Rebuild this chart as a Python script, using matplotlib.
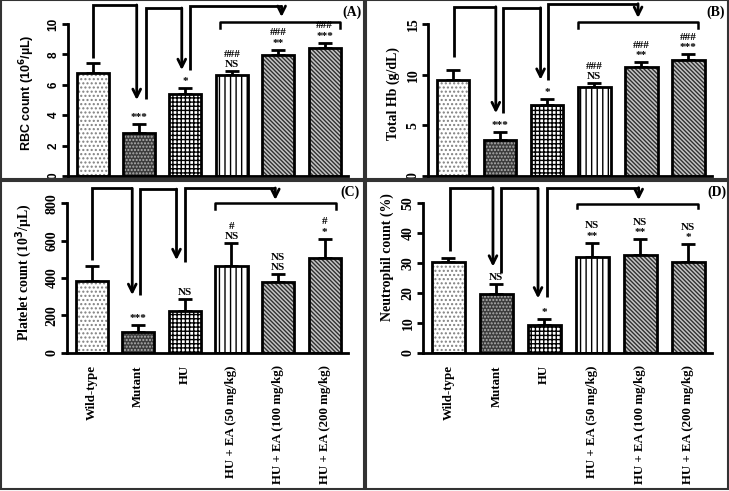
import numpy as np
import matplotlib
matplotlib.use('Agg')
import matplotlib.pyplot as plt
from matplotlib.patches import Rectangle

W, H = 729, 491

groups = ['Wild-type', 'Mutant', 'HU', 'HU + EA (50 mg/kg)',
          'HU + EA (100 mg/kg)', 'HU + EA (200 mg/kg)']

rbc_mean = [6.76, 2.85, 5.37, 6.64, 7.96, 8.40]
rbc_sem = [0.70, 0.57, 0.40, 0.26, 0.33, 0.37]
rbc_marks = [[], ['***'], ['*'], ['NS', '###'], ['**', '###'], ['***', '###']]

hb_mean = [9.48, 3.55, 7.00, 8.82, 10.73, 11.45]
hb_sem = [0.98, 0.82, 0.57, 0.33, 0.52, 0.55]
hb_marks = [[], ['***'], ['*'], ['NS', '###'], ['**', '###'], ['***', '###']]

plt_mean = [384, 112, 223, 466, 377, 509]
plt_sem = [80, 36, 63, 120, 43, 100]
plt_marks = [[], ['***'], ['NS'], ['NS', '#'], ['NS', 'NS'], ['*', '#']]

neu_mean = [30.1, 19.6, 9.2, 32.0, 32.6, 30.1]
neu_sem = [1.4, 3.2, 1.9, 4.7, 5.3, 6.1]
neu_marks = [[], ['NS'], ['*'], ['**', 'NS'], ['**', 'NS'], ['*', 'NS']]

# face colour, hatch, hatch colour for each group
styles = [('white', '....', '#808080'),
          ('#3c3c3c', '.....', '#b0b0b0'),
          ('white', '++++', 'black'),
          ('white', '|||', 'black'),
          ('#c4c4c4', '\\' * 8, '#303030'),
          ('#c4c4c4', '\\' * 8, '#303030')]

plt.rcParams['hatch.linewidth'] = 1.0
SERIF = 'Liberation Serif'
SANS = 'Liberation Sans'

fig = plt.figure(figsize=(W / 100, H / 100), dpi=100)


def px_axes(left, right, top, bottom):
    return fig.add_axes([left / W, 1 - bottom / H, (right - left) / W, (bottom - top) / H])


# panel layout: axes box in pixels and connector paths in data units
panels = [
    dict(mean=rbc_mean, sem=rbc_sem, marks=rbc_marks, box=(68, 348, 1, 176),
         ytop=11.51, yspine=10, ticks=[0, 2, 4, 6, 8, 10], tickfont=SANS, tickfs=8.5,
         ylabel='RBC count (10$^\\mathbf{6}$/µL)', labfont=SANS, labfs=9,
         labpos=(27, 93), tag='(A)', tagpos=(352, 12), xlabels=False,
         paths=[(0.0, 7.76, 11.25, 0.95, 5.0), (1.16, 5.06, 11.05, 1.92, 6.97),
                (2.09, 6.97, 11.15, 4.07, 10.46)],
         bracket=(2.74, 5.32, 10.13, 9.74)),
    dict(mean=hb_mean, sem=hb_sem, marks=hb_marks, box=(428, 712, 1, 176),
         ytop=17.27, yspine=15, ticks=[0, 5, 10, 15], tickfont=SERIF, tickfs=10,
         ylabel='Total Hb (g/dL)', labfont=SERIF, labfs=10,
         labpos=(393, 94), tag='(B)', tagpos=(716, 12), xlabels=False,
         paths=[(0.03, 11.75, 16.7, 0.91, 6.2), (1.06, 6.2, 16.6, 1.86, 9.5),
                (2.02, 9.5, 17.0, 3.93, 15.6)],
         bracket=(2.66, 5.2, 15.2, 14.6)),
    dict(mean=plt_mean, sem=plt_sem, marks=plt_marks, box=(67, 348, 182, 352.7),
         ytop=914, yspine=800, ticks=[0, 200, 400, 600, 800], tickfont=SERIF, tickfs=10,
         ylabel='Platelet count (10$^\\mathbf{3}$/µL)', labfont=SERIF, labfs=10,
         labpos=(24, 272), tag='(C)', tagpos=(350, 192), xlabels=True,
         paths=[(0.0, 496, 880, 0.87, 309), (1.03, 309, 876, 1.82, 496),
                (2.0, 486, 882, 3.94, 818)],
         bracket=(2.65, 5.24, 800, 769)),
    dict(mean=neu_mean, sem=neu_sem, marks=neu_marks, box=(423, 712, 182, 352.7),
         ytop=56.9, yspine=50, ticks=[0, 10, 20, 30, 40, 50], tickfont=SERIF, tickfs=10,
         ylabel='Neutrophil count (%)', labfont=SERIF, labfs=10,
         labpos=(387, 257), tag='(D)', tagpos=(717, 192), xlabels=True,
         paths=[(0.04, 33.9, 55, 0.93, 28.7), (1.09, 26.6, 54.8, 1.87, 18.1),
                (2.05, 18.7, 55, 3.97, 50.9)],
         bracket=(2.68, 5.2, 49.5, 48.1)),
]

x = np.arange(len(groups))
width = 0.69

for p in panels:
    ax = px_axes(*p['box'])
    mean = np.array(p['mean'], dtype=float)
    sem = np.array(p['sem'], dtype=float)
    for i in range(len(groups)):
        face, hatch, hcol = styles[i]
        ax.bar(x[i], mean[i], width, color=face, hatch=hatch, edgecolor=hcol,
               linewidth=0, zorder=2)
        ax.bar(x[i], mean[i], width, fill=False, edgecolor='black',
               linewidth=2, zorder=3)
    ax.errorbar(x, mean, yerr=[np.zeros_like(sem), sem], fmt='none', ecolor='black',
                elinewidth=2, capsize=5, capthick=2, zorder=1)

    # significance marks above the error bars
    for i, marks in enumerate(p['marks']):
        for k, m in enumerate(marks):
            ax.annotate(m, (x[i], mean[i] + sem[i]), xytext=(0, 1.5 + 7.5 * k),
                        textcoords='offset points', ha='center', va='bottom',
                        fontsize=8, fontweight='bold', family=SERIF,
                        annotation_clip=False)

    # connector arrows
    for xu, ys, yt, xd, ytip in p['paths']:
        ax.plot([xu, xu, xd], [ys, yt, yt], color='black', lw=2,
                clip_on=False, solid_joinstyle='miter', solid_capstyle='butt')
        ax.annotate('', xy=(xd, ytip), xytext=(xd, yt),
                    arrowprops=dict(arrowstyle='->', lw=2, color='black',
                                    shrinkA=0, shrinkB=0, mutation_scale=14),
                    annotation_clip=False)
    bx0, bx1, by, bt = p['bracket']
    ax.plot([bx0, bx0, bx1, bx1], [bt, by, by, bt], color='black', lw=1.8,
            clip_on=False)

    ax.set_xlim(-0.53, 5.5)
    ax.set_ylim(0, p['ytop'])
    for s in ['top', 'right']:
        ax.spines[s].set_visible(False)
    ax.spines['left'].set_linewidth(2)
    ax.spines['bottom'].set_linewidth(2)
    ax.spines['left'].set_bounds(0, p['yspine'])
    ax.set_yticks(p['ticks'])
    ax.tick_params(axis='y', width=2, length=4, labelrotation=90, pad=2)
    for t in ax.get_yticklabels():
        t.set_fontfamily(p['tickfont'])
        t.set_fontweight('bold')
        t.set_fontsize(p['tickfs'])
        t.set_va('center')
    ax.set_xticks(x)
    ax.tick_params(axis='x', length=0, pad=9)
    if p['xlabels']:
        ax.set_xticklabels(groups, rotation=90, fontsize=9.3, fontweight='bold',
                           family=SERIF, va='top', ha='center')
    else:
        ax.set_xticklabels([])

    lx, ly = p['labpos']
    fig.text(lx / W, 1 - ly / H, p['ylabel'], rotation=90, ha='center', va='center',
             fontsize=p['labfs'], fontweight='bold', family=p['labfont'])
    tx, ty = p['tagpos']
    fig.text(tx / W, 1 - ty / H, p['tag'], ha='center', va='center',
             fontsize=10, fontweight='bold', family=SERIF)

# panel frames
for (l, r, t, b) in [(1, 364, 0.5, 179), (366, 728, 0.5, 179),
                     (1, 364, 181, 489), (366, 728, 181, 489)]:
    fig.add_artist(Rectangle((l / W, 1 - b / H), (r - l) / W, (b - t) / H,
                             transform=fig.transFigure, fill=False,
                             edgecolor='#333333', linewidth=1.5))

fig.savefig('out.png', dpi=100)
